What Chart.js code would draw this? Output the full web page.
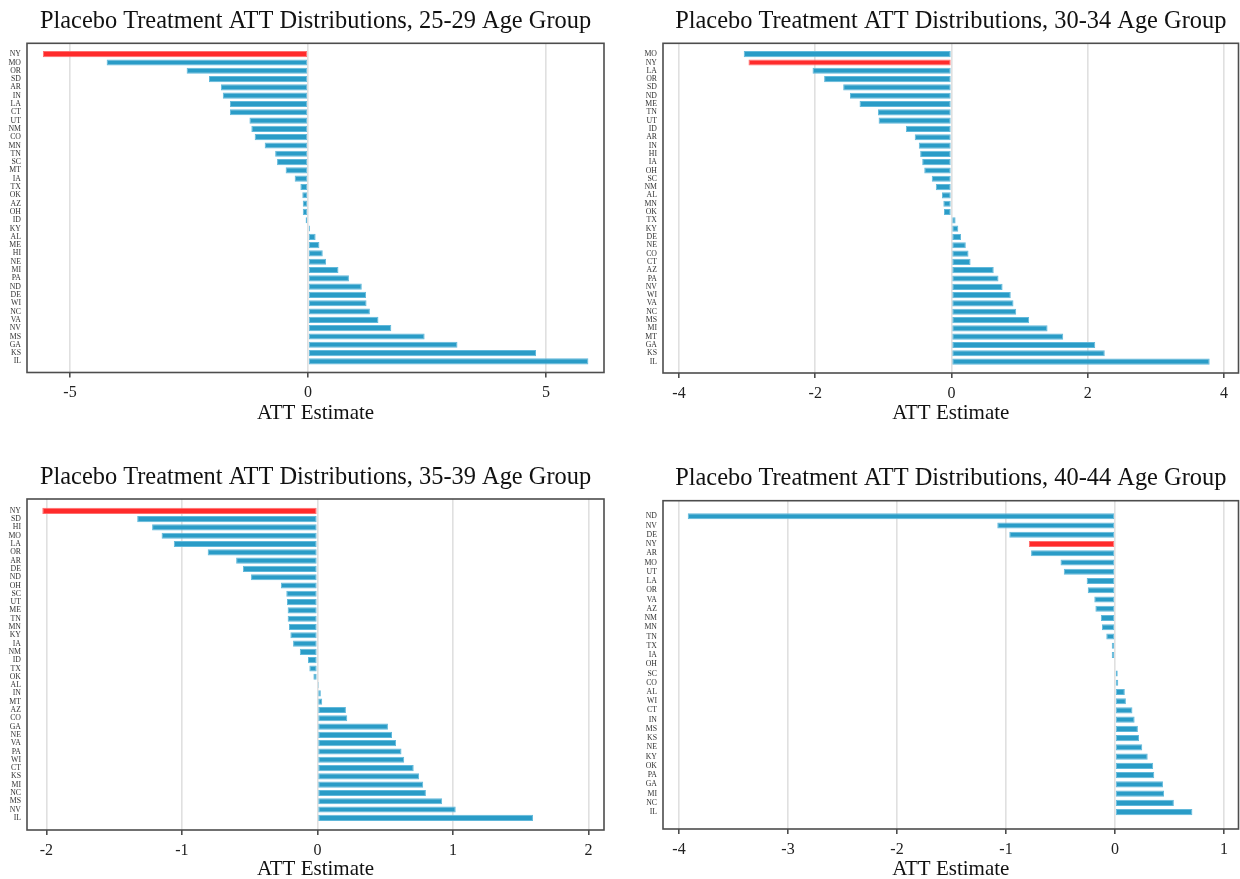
<!DOCTYPE html>
<html>
<head>
<meta charset="utf-8">
<title>Placebo Treatment ATT Distributions</title>
<script src="https://cdn.jsdelivr.net/npm/chart.js@4.4.1/dist/chart.umd.min.js"></script>
<style>
  html, body { margin: 0; padding: 0; background: #ffffff; width: 1240px; height: 879px; overflow: hidden; }
  canvas { position: absolute; }
</style>
</head>
<body>
<canvas id="c2529" width="631" height="440" style="left:0px;top:0px"></canvas>
<canvas id="c3034" width="621" height="440" style="left:640px;top:0px"></canvas>
<canvas id="c3539" width="631" height="440" style="left:0px;top:456px"></canvas>
<canvas id="c4044" width="621" height="440" style="left:640px;top:456px"></canvas>
<script>
// ---- Data: placebo ATT estimates by state, sorted ascending ----
const treatedState = 'NY';

const states2529 = ['NY','MO','OR','SD','AR','IN','LA','CT','UT','NM','CO','MN','TN','SC','MT','IA','TX','OK','AZ',
                    'OH','ID','KY','AL','ME','HI','NE','MI','PA','ND','DE','WI','NC','VA','NV','MS','GA','KS','IL'];
const att2529 = [-5.57,-4.23,-2.55,-2.08,-1.83,-1.79,-1.64,-1.64,-1.23,-1.19,-1.12,-0.91,-0.69,-0.65,-0.47,-0.28,-0.16,-0.12,-0.11,
                 -0.11,-0.05,0.04,0.16,0.24,0.31,0.38,0.64,0.86,1.13,1.22,1.23,1.30,1.48,1.75,2.45,3.14,4.79,5.89];
const xTicks2529 = [-5, 0, 5];

const states3034 = ['MO','NY','LA','OR','SD','ND','ME','TN','UT','ID','AR','IN','HI','IA','OH','SC','NM','AL','MN',
                    'OK','TX','KY','DE','NE','CO','CT','AZ','PA','NV','WI','VA','NC','MS','MI','MT','GA','KS','IL'];
const att3034 = [-3.05,-2.98,-2.04,-1.87,-1.59,-1.49,-1.35,-1.08,-1.07,-0.67,-0.54,-0.48,-0.46,-0.43,-0.40,-0.29,-0.23,-0.14,-0.12,
                 -0.11,0.06,0.10,0.14,0.21,0.25,0.28,0.62,0.69,0.75,0.87,0.91,0.95,1.14,1.41,1.64,2.11,2.25,3.79];
const xTicks3034 = [-4, -2, 0, 2, 4];

const states3539 = ['NY','SD','HI','MO','LA','OR','AR','DE','ND','OH','SC','UT','ME','TN','MN','KY','IA','NM','ID',
                    'TX','OK','AL','IN','MT','AZ','CO','GA','NE','VA','PA','WI','CT','KS','MI','NC','MS','NV','IL'];
const att3539 = [-2.03,-1.33,-1.22,-1.15,-1.06,-0.81,-0.60,-0.55,-0.49,-0.27,-0.23,-0.225,-0.22,-0.22,-0.21,-0.20,-0.18,-0.13,-0.07,
                 -0.06,-0.03,0.01,0.025,0.035,0.21,0.22,0.52,0.55,0.58,0.62,0.64,0.71,0.75,0.78,0.80,0.92,1.02,1.59];
const xTicks3539 = [-2, -1, 0, 1, 2];

const states4044 = ['ND','NV','DE','NY','AR','MO','UT','LA','OR','VA','AZ','NM','MN','TN','TX','IA','OH',
                    'SC','CO','AL','WI','CT','IN','MS','KS','NE','KY','OK','PA','GA','MI','NC','IL'];
const att4044 = [-3.92,-1.08,-0.97,-0.79,-0.77,-0.50,-0.47,-0.26,-0.25,-0.19,-0.18,-0.13,-0.12,-0.08,-0.03,-0.03,0.008,
                 0.025,0.03,0.09,0.10,0.16,0.18,0.21,0.22,0.25,0.30,0.35,0.36,0.44,0.45,0.54,0.71];
const xTicks4044 = [-4, -3, -2, -1, 0, 1];

// ---- Styling ----
const SERIF = "'Liberation Serif', 'DejaVu Serif', serif";
const BLUE = '#2a9cc7', BLUE_EDGE = '#62b9db';
const RED = '#ff2b2b', RED_EDGE = '#ff6e6e';

// Panel frame drawn around the plotting area
const framePlugin = {
  id: 'panelFrame',
  afterDatasetsDraw(chart, args, opts) {
    const { ctx, chartArea: a } = chart;
    ctx.save();
    ctx.strokeStyle = opts.color;
    ctx.lineWidth = opts.width;
    ctx.strokeRect(a.left, a.top, a.right - a.left, a.bottom - a.top);
    ctx.restore();
  }
};

// Panel heading, centred over the plotting area rather than the whole canvas
const panelTitlePlugin = {
  id: 'panelTitle',
  afterDraw(chart, args, opts) {
    const { ctx, chartArea: a } = chart;
    ctx.save();
    ctx.font = opts.size + 'px ' + SERIF;
    ctx.fillStyle = opts.color;
    ctx.textAlign = 'center';
    ctx.textBaseline = 'middle';
    ctx.fillText(opts.text, (a.left + a.right) / 2, a.top - opts.gap);
    ctx.restore();
  }
};

function drawPanel(canvasId, ageGroup, states, values, xTicks, layout) {
  const colors = states.map(s => s === treatedState ? RED : BLUE);
  const edges = states.map(s => s === treatedState ? RED_EDGE : BLUE_EDGE);
  new Chart(document.getElementById(canvasId), {
    type: 'bar',
    data: {
      datasets: [{
        data: values.map((v, i) => ({ x: v, y: i })),
        backgroundColor: colors,
        borderColor: edges,
        borderWidth: 1,
        borderSkipped: false,
        barPercentage: layout.barPct,
        categoryPercentage: 1
      }]
    },
    options: {
      indexAxis: 'y',
      responsive: false,
      devicePixelRatio: 1,
      animation: false,
      events: [],
      layout: { padding: { left: 0, right: layout.padRight, top: layout.top, bottom: 0 } },
      plugins: {
        legend: { display: false },
        tooltip: { enabled: false },
        title: { display: false },
        panelTitle: {
          text: 'Placebo Treatment ATT Distributions, ' + ageGroup + ' Age Group',
          size: 24.4,
          color: '#111111',
          gap: 21.7
        },
        panelFrame: { color: '#4d4d4d', width: 1.6 }
      },
      scales: {
        x: {
          type: 'linear',
          position: 'bottom',
          min: layout.xMin,
          max: layout.xMax,
          afterFit: s => { s.height = layout.xAxisHeight; },
          afterBuildTicks: s => { s.ticks = xTicks.map(v => ({ value: v })); },
          grid: { color: '#e0e0e0', lineWidth: 1.6, drawTicks: true, tickLength: 5, tickColor: '#4d4d4d', tickWidth: 1.6 },
          border: { display: false },
          ticks: {
            autoSkip: false,
            maxRotation: 0,
            padding: 6,
            color: '#222222',
            font: { family: SERIF, size: 16 },
            callback: v => String(v)
          },
          title: {
            display: true,
            text: 'ATT Estimate',
            color: '#111111',
            font: { family: SERIF, size: 21 },
            padding: { top: 0, bottom: layout.xTitleBottom }
          }
        },
        y: {
          type: 'linear',
          reverse: true,
          min: layout.yMin,
          max: layout.yMax,
          afterFit: s => { s.width = layout.side; },
          afterBuildTicks: s => { s.ticks = states.map((_, i) => ({ value: i })); },
          grid: { display: false, drawTicks: false },
          border: { display: false },
          ticks: {
            autoSkip: false,
            padding: 6,
            color: '#333333',
            font: { family: SERIF, size: 7.8 },
            callback: v => states[v] ?? ''
          }
        }
      }
    },
    plugins: [framePlugin, panelTitlePlugin]
  });
}

drawPanel('c2529', '25-29', states2529, att2529, xTicks2529, {
  xMin: -5.903, xMax: 6.218, yMin: -0.785, yMax: 37.82,
  side: 27, padRight: 27, top: 43.3,
  xAxisHeight: 67.5, xTitleBottom: 14, barPct: 0.74
});
drawPanel('c3034', '30-34', states3034, att3034, xTicks3034, {
  xMin: -4.235, xMax: 4.213, yMin: -0.785, yMax: 37.85,
  side: 23, padRight: 22.5, top: 43.3,
  xAxisHeight: 67, xTitleBottom: 14, barPct: 0.74
});
drawPanel('c3539', '35-39', states3539, att3539, xTicks3539, {
  xMin: -2.143, xMax: 2.114, yMin: -0.9, yMax: 37.94,
  side: 27, padRight: 27, top: 43,
  xAxisHeight: 66, xTitleBottom: 13.5, barPct: 0.74
});
drawPanel('c4044', '40-44', states4044, att4044, xTicks4044, {
  xMin: -4.147, xMax: 1.133, yMin: -1.15, yMax: 33.29,
  side: 23, padRight: 22.5, top: 44.7,
  xAxisHeight: 67, xTitleBottom: 14, barPct: 0.66
});
</script>
</body>
</html>
